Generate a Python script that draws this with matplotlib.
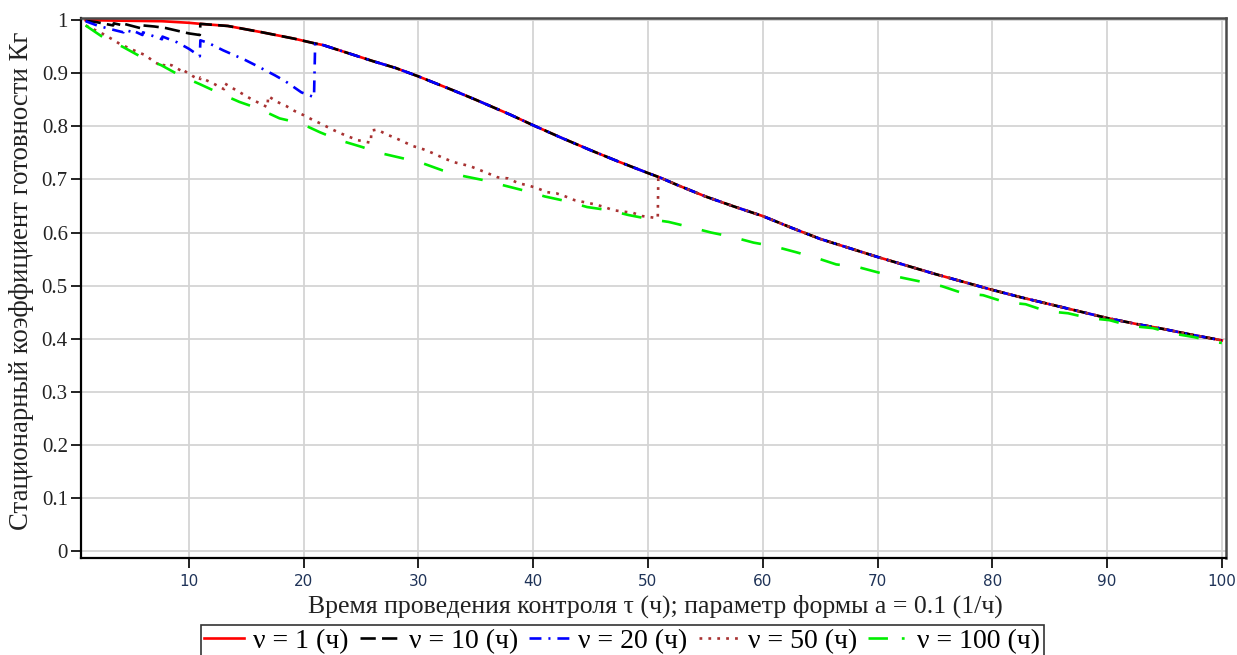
import numpy as np
import matplotlib
matplotlib.use("Agg")
import matplotlib.pyplot as plt
from matplotlib.lines import Line2D

# ---- envelope (nu = 1 h) ----
tau_env = [1.0, 4.0, 7.6, 10.0, 11.0, 13.4, 16.4, 19.2, 21.0, 21.7, 25.0, 26.0, 28.0, 30.0,
           33.0, 35.0, 38.0, 40.0, 42.5, 45.0, 47.5, 50.0, 51.0, 52.5, 55.0, 57.5, 60.0,
           62.5, 65.0, 67.5, 70.0, 72.5, 75.0, 77.5, 80.0, 82.5, 85.0, 87.5, 90.0,
           92.5, 95.0, 97.5, 100.0]
kg_env = [1.0, 0.999, 0.998, 0.995, 0.993, 0.989, 0.977, 0.965, 0.956, 0.953, 0.930, 0.923,
          0.910, 0.894, 0.868, 0.850, 0.822, 0.802, 0.778, 0.755, 0.733, 0.712, 0.704,
          0.690, 0.668, 0.649, 0.631, 0.609, 0.588, 0.571, 0.554, 0.538, 0.522, 0.507,
          0.492, 0.478, 0.465, 0.452, 0.439, 0.428, 0.418, 0.407, 0.397]

# ---- nu = 10 h (before it joins the envelope) ----
tau_v10 = [1.0, 2.0, 3.4, 3.45, 4.3, 4.35, 5.95, 6.0, 7.0, 8.0, 9.0, 10.0, 10.95, 11.0]
kg_v10 = [0.999, 0.996, 0.990, 0.994, 0.990, 0.993, 0.984, 0.990, 0.988, 0.985, 0.980,
          0.975, 0.972, 0.993]

# ---- nu = 20 h ----
tau_v20 = [1.0, 2.0, 3.0, 4.3, 4.35, 5.0, 5.05, 5.95, 6.0, 7.65, 7.7, 9.0, 10.0, 10.95,
           11.0, 11.7, 13.0, 14.9, 16.0, 17.5, 18.4, 19.8, 20.9, 21.0]
kg_v20 = [0.998, 0.990, 0.984, 0.977, 0.982, 0.978, 0.981, 0.972, 0.977, 0.964, 0.969,
          0.958, 0.946, 0.932, 0.962, 0.957, 0.943, 0.925, 0.913, 0.896, 0.885, 0.864,
          0.855, 0.956]

# ---- nu = 50 h ----
tau_v50 = [1.0, 2.7, 4.0, 5.0, 6.2, 7.0, 7.8, 7.85, 8.5, 9.3, 9.35, 10.3, 10.95, 11.0,
           12.1, 13.05, 13.1, 13.8, 14.6, 15.3, 16.1, 16.85, 16.9, 17.7, 18.5, 19.2,
           20.0, 20.8, 21.6, 22.4, 23.2, 24.0, 24.7, 25.85, 25.9, 26.4, 27.2, 28.0,
           28.8, 29.5, 30.4, 31.2, 32.0, 33.0, 34.5, 35.2, 36.0, 36.9, 37.8, 38.7,
           39.5, 40.3, 41.2, 42.0, 42.8, 43.6, 44.5, 45.4, 46.2, 47.0, 48.7, 49.5,
           50.85, 50.9]
kg_v50 = [0.990, 0.972, 0.955, 0.945, 0.934, 0.921, 0.912, 0.918, 0.915, 0.905, 0.908,
          0.895, 0.887, 0.892, 0.881, 0.870, 0.881, 0.872, 0.862, 0.853, 0.844, 0.836,
          0.857, 0.846, 0.838, 0.829, 0.821, 0.812, 0.804, 0.795, 0.787, 0.780, 0.774,
          0.769, 0.792, 0.794, 0.785, 0.778, 0.770, 0.763, 0.757, 0.750, 0.742, 0.733,
          0.725, 0.719, 0.712, 0.704, 0.702, 0.693, 0.689, 0.684, 0.676, 0.674, 0.668,
          0.661, 0.657, 0.653, 0.648, 0.642, 0.637, 0.631, 0.627, 0.705]

# ---- nu = 100 h ----
tau_v100 = [1.0, 2.5, 4.3, 5.9, 7.6, 9.2, 11.0, 12.5, 14.4, 16.0, 17.9, 19.7, 21.4,
            23.1, 25.1, 26.6, 28.6, 30.3, 32.1, 34.0, 35.6, 37.4, 39.4, 41.0, 42.9,
            44.7, 46.6, 48.3, 50.2, 51.8, 53.7, 55.5, 57.3, 59.2, 61.0, 62.9, 64.7,
            66.4, 68.3, 70.2, 71.9, 73.9, 75.6, 77.4, 79.2, 81.1, 82.9, 84.7, 86.6,
            88.4, 90.2, 92.1, 94.0, 95.7, 97.6, 99.4, 100.0]
kg_v100 = [0.990, 0.968, 0.949, 0.930, 0.915, 0.896, 0.879, 0.864, 0.846, 0.834, 0.815,
           0.806, 0.789, 0.774, 0.761, 0.750, 0.740, 0.731, 0.717, 0.706, 0.699, 0.689,
           0.678, 0.668, 0.659, 0.648, 0.642, 0.633, 0.625, 0.620, 0.610, 0.600, 0.592,
           0.581, 0.574, 0.563, 0.552, 0.540, 0.535, 0.524, 0.516, 0.507, 0.499, 0.486,
           0.482, 0.469, 0.465, 0.452, 0.448, 0.439, 0.435, 0.424, 0.420, 0.410, 0.403,
           0.394, 0.392]

labels = ['ν = 1 (ч)', 'ν = 10 (ч)', 'ν = 20 (ч)', 'ν = 50 (ч)', 'ν = 100 (ч)']

tau_env = np.array(tau_env)
kg_env = np.array(kg_env)


def join_env(t, k):
    # after the last jump the curve follows the nu = 1 envelope
    m = tau_env > t[-1] + 0.3
    return np.concatenate([t, tau_env[m]]), np.concatenate([k, kg_env[m]])


plt.rcParams['lines.scale_dashes'] = False
serif = 'Liberation Serif'

fig = plt.figure(figsize=(12.37, 6.55), dpi=100)
ax = fig.add_axes([0.0655, 0.148, 0.9255, 0.8245])

lw = 1.9
h1, = ax.plot(tau_env, kg_env, color='#ff0000', lw=lw)
x, y = join_env(tau_v10, kg_v10)
h2, = ax.plot(x, y, color='black', lw=lw, ls=(0, (11, 4.5)))
x, y = join_env(tau_v20, kg_v20)
h3, = ax.plot(x, y, color='#0000ff', lw=lw, ls=(0, (8.6, 5, 1.5, 5)))
x, y = join_env(tau_v50, kg_v50)
h4, = ax.plot(x, y, color='#a83232', lw=lw, ls=(0, (2, 4.4)))
ax.plot(tau_v100, kg_v100, color='#00ee00', lw=lw, ls=(0, (14.4, 15)))
# legend sample for the green line shows a dash and a dot
h5 = Line2D([], [], color='#00ee00', lw=lw, ls=(0, (14, 10, 2, 6)))

ax.set_xlim(0.6, 100.35)
ax.set_ylim(-0.013, 1.004)
ax.set_xticks(np.arange(10, 101, 10))
ax.set_yticks(np.arange(0, 1.01, 0.1))
ax.set_yticklabels(['0', '0.1', '0.2', '0.3', '0.4', '0.5', '0.6', '0.7', '0.8', '0.9', '1'],
                   family=serif, fontsize=15, color='#222222')
ax.set_xticklabels([str(v) for v in range(10, 101, 10)], family='DejaVu Sans',
                   fontsize=11, color='#1f3358')
ax.tick_params(axis='both', direction='out', length=7.5, width=1.4, color='#222222')
ax.tick_params(axis='y', pad=2)
ax.tick_params(axis='x', pad=4)
ax.grid(True, color='#d4d4d4', lw=1.3)
ax.set_axisbelow(True)
for side in ['left', 'bottom']:
    ax.spines[side].set_color('black')
    ax.spines[side].set_linewidth(1.6)
for side in ['top', 'right']:
    ax.spines[side].set_color('#4a4a4a')
    ax.spines[side].set_linewidth(1.8)

fig.text(655 / 1237, 1 - 606 / 655, 'Время проведения контроля τ (ч); параметр формы a = 0.1 (1/ч)',
         family=serif, fontsize=18.5, ha='center', va='center', color='#222222')
fig.text(22 / 1237, 1 - 281 / 655, 'Стационарный коэффициент готовности Кг',
         family=serif, fontsize=19.3, ha='center', va='center', rotation=90, color='#222222')

leg = fig.legend([h1, h2, h3, h4, h5], labels, loc='upper center',
                 bbox_to_anchor=(0.503, 0.046), ncol=5,
                 prop={'family': serif, 'size': 20}, frameon=True, fancybox=False,
                 edgecolor='black', handlelength=1.45, handletextpad=0.32,
                 columnspacing=0.4, borderpad=0.12, borderaxespad=0)
leg.get_frame().set_linewidth(1.2)

fig.savefig('out.png', dpi=100)
